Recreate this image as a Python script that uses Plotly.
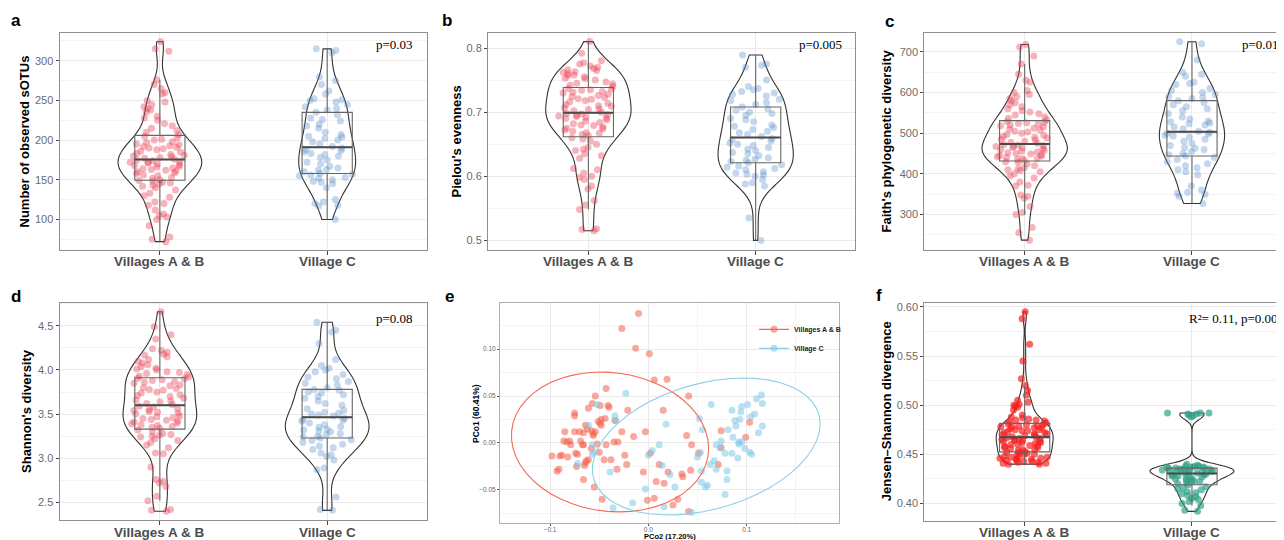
import numpy as np
import plotly.graph_objects as go

W, H = 1284, 540          # target window
OFF = 8                   # default body margin of the html page
FW, FH = W - OFF, H - OFF # figure size
groups = ["Villages A & B", "Village C"]

# ---------------- data ----------------
sotus_ab = [72, 75, 78, 92, 100, 103, 105, 107, 112, 118, 120, 122, 128, 130, 133, 137, 140, 142, 143, 145, 146, 147, 148, 149,
            150, 152, 153, 155, 156, 158, 159, 160, 161, 162, 163, 164, 165, 166, 167, 168, 169, 170, 171, 172, 172, 173, 174, 175,
            176, 177, 178, 179, 180, 181, 182, 183, 185, 186, 188, 189, 190, 191, 192, 193, 194, 195, 197, 198, 200, 201, 203, 205,
            207, 210, 212, 215, 218, 221, 225, 228, 230, 235, 238, 240, 242, 245, 248, 250, 258, 260, 265, 270, 276, 312, 315, 324]
sotus_c = [100, 117, 118, 120, 122, 125, 140, 145, 147, 148, 150, 152, 153, 155, 156, 157,
           158, 160, 162, 163, 165, 167, 170, 172, 175, 178, 180, 182, 183, 185, 187, 188, 190,
           192, 195, 198, 200, 202, 204, 205, 207, 210, 215, 218, 220, 224, 226, 228, 232, 235,
           238, 240, 242, 245, 248, 250, 251, 252, 258, 262, 270, 275, 280, 310, 313, 315]

pielou_ab = [0.515, 0.517, 0.518, 0.548, 0.555, 0.562, 0.58, 0.585, 0.595, 0.598, 0.6, 0.605, 0.61, 0.612, 0.628, 0.632, 0.635, 0.64, 0.642, 0.645, 0.65, 0.655, 0.658, 0.66,
             0.663, 0.665, 0.667, 0.668, 0.67, 0.672, 0.674, 0.675, 0.677, 0.679, 0.68, 0.682, 0.684, 0.686, 0.688, 0.69, 0.691, 0.692, 0.693, 0.694, 0.695, 0.696, 0.697, 0.698,
             0.7, 0.702, 0.704, 0.705, 0.707, 0.709, 0.71, 0.712, 0.714, 0.716, 0.718, 0.72, 0.721, 0.723, 0.724, 0.726, 0.728, 0.73, 0.731, 0.732, 0.734, 0.735, 0.736, 0.737,
             0.74, 0.742, 0.744, 0.745, 0.747, 0.75, 0.752, 0.753, 0.755, 0.757, 0.758, 0.76, 0.762, 0.763, 0.765, 0.766, 0.768, 0.77, 0.772, 0.775, 0.777, 0.78, 0.792, 0.81]
pielou_c = [0.5, 0.535, 0.585, 0.588, 0.59, 0.595, 0.6, 0.602, 0.603, 0.605, 0.607, 0.61, 0.612, 0.614, 0.616, 0.618,
            0.621, 0.623, 0.625, 0.627, 0.629, 0.632, 0.635, 0.637, 0.64, 0.642, 0.645, 0.648, 0.65, 0.652, 0.655, 0.657, 0.659,
            0.662, 0.665, 0.668, 0.67, 0.673, 0.676, 0.678, 0.68, 0.685, 0.688, 0.69, 0.695, 0.698, 0.7, 0.703, 0.705, 0.708,
            0.712, 0.715, 0.718, 0.72, 0.725, 0.728, 0.73, 0.732, 0.735, 0.737, 0.74, 0.75, 0.77, 0.773, 0.775, 0.789]

faith_ab = [237, 255, 268, 300, 305, 320, 340, 345, 348, 370, 372, 380, 390, 395, 400, 405, 408, 410, 412, 415, 420, 425, 428, 430,
            433, 435, 437, 438, 440, 442, 444, 445, 447, 449, 450, 452, 454, 456, 458, 460, 462, 464, 465, 467, 468, 470, 471, 472,
            475, 478, 480, 483, 485, 488, 490, 492, 495, 497, 500, 503, 505, 508, 510, 512, 515, 518, 520, 522, 524, 525, 527, 529,
            533, 537, 540, 545, 548, 552, 555, 560, 565, 570, 575, 580, 585, 590, 595, 600, 605, 625, 630, 645, 670, 690, 712, 718]
faith_c = [327, 345, 350, 352, 355, 360, 370, 398, 405, 410, 415, 420, 425, 430, 435, 440,
           444, 447, 450, 455, 460, 463, 465, 470, 475, 480, 485, 490, 493, 495, 498, 500, 502,
           505, 510, 515, 520, 523, 525, 528, 530, 535, 540, 548, 555, 560, 565, 570, 575, 580,
           585, 588, 590, 595, 600, 605, 610, 620, 622, 625, 640, 645, 650, 680, 720, 725]

shannon_ab = [2.4, 2.41, 2.42, 2.52, 2.57, 2.68, 2.72, 2.74, 2.76, 2.9, 3.05, 3.06, 3.12, 3.15, 3.18, 3.2, 3.22, 3.24, 3.25, 3.26, 3.27, 3.28, 3.3, 3.32,
              3.34, 3.35, 3.36, 3.37, 3.38, 3.39, 3.4, 3.41, 3.42, 3.43, 3.44, 3.45, 3.46, 3.47, 3.48, 3.5, 3.51, 3.52, 3.53, 3.54, 3.55, 3.56, 3.58, 3.59,
              3.61, 3.62, 3.64, 3.65, 3.66, 3.68, 3.7, 3.71, 3.72, 3.74, 3.75, 3.77, 3.78, 3.79, 3.8, 3.82, 3.83, 3.85, 3.86, 3.87, 3.88, 3.89, 3.9, 3.905,
              3.92, 3.93, 3.95, 3.96, 3.97, 3.98, 4.0, 4.01, 4.02, 4.04, 4.06, 4.08, 4.1, 4.12, 4.15, 4.17, 4.18, 4.2, 4.22, 4.24, 4.35, 4.4, 4.49, 4.66]
shannon_c = [2.41, 2.42, 2.56, 2.87, 2.89, 2.98, 3.02, 3.04, 3.06, 3.1, 3.12, 3.14, 3.16, 3.18, 3.2, 3.21,
             3.23, 3.24, 3.25, 3.27, 3.28, 3.3, 3.31, 3.32, 3.33, 3.35, 3.36, 3.38, 3.4, 3.42, 3.43, 3.44, 3.45,
             3.48, 3.49, 3.5, 3.51, 3.52, 3.54, 3.56, 3.6, 3.62, 3.65, 3.68, 3.7, 3.72, 3.74, 3.75, 3.77, 3.78,
             3.8, 3.83, 3.85, 3.87, 3.9, 3.92, 3.95, 3.98, 4.0, 4.02, 4.05, 4.12, 4.3, 4.43, 4.45, 4.54]

jsd_ab = [0.44, 0.44, 0.441, 0.441, 0.442, 0.442, 0.443, 0.443, 0.444, 0.444, 0.445, 0.445, 0.446, 0.446, 0.447, 0.447, 0.448, 0.448, 0.449, 0.45, 0.45, 0.451, 0.452, 0.452,
          0.453, 0.454, 0.455, 0.455, 0.456, 0.457, 0.457, 0.458, 0.459, 0.459, 0.46, 0.46, 0.461, 0.462, 0.462, 0.463, 0.463, 0.464, 0.464, 0.465, 0.465, 0.466, 0.466, 0.467,
          0.468, 0.468, 0.469, 0.47, 0.47, 0.471, 0.471, 0.472, 0.472, 0.473, 0.474, 0.474, 0.475, 0.475, 0.476, 0.477, 0.477, 0.478, 0.478, 0.479, 0.479, 0.48, 0.48, 0.481,
          0.482, 0.483, 0.484, 0.485, 0.485, 0.486, 0.487, 0.488, 0.49, 0.495, 0.498, 0.499, 0.5, 0.501, 0.503, 0.505, 0.51, 0.515, 0.52, 0.527, 0.545, 0.562, 0.588, 0.595]
jsd_c = [0.392, 0.393, 0.398, 0.4, 0.402, 0.404, 0.405, 0.407, 0.408, 0.41, 0.411, 0.412, 0.414, 0.415, 0.416, 0.417,
         0.419, 0.42, 0.421, 0.422, 0.422, 0.423, 0.424, 0.425, 0.425, 0.426, 0.427, 0.427, 0.428, 0.428, 0.429, 0.429, 0.43,
         0.431, 0.431, 0.432, 0.432, 0.432, 0.433, 0.433, 0.433, 0.434, 0.434, 0.434, 0.435, 0.435, 0.435, 0.436, 0.436, 0.436,
         0.437, 0.437, 0.437, 0.438, 0.438, 0.438, 0.439, 0.44, 0.488, 0.489, 0.49, 0.491, 0.491, 0.492, 0.492, 0.492]

pco2_ab = [-0.010, -0.027, -0.013, 0.001, 0.006, 0.019, -0.043, -0.054, -0.057, -0.061,
           -0.049, -0.041, -0.040, -0.021, 0.015, 0.041, -0.075, -0.075, -0.048, -0.051,
           -0.049, -0.048, -0.044, -0.034, -0.064, -0.062, -0.066, -0.085, -0.075, -0.086,
           -0.083, -0.080, -0.079, -0.098, -0.090, -0.088, -0.093, -0.091, -0.074, -0.072,
           -0.082, -0.073, -0.065, -0.069, -0.067, -0.066, -0.056, -0.056, -0.054, -0.058,
           -0.063, -0.061, -0.064, -0.066, -0.055, -0.047, -0.050, -0.045, -0.043, -0.031,
           -0.027, -0.032, -0.024, -0.022, -0.015, -0.003, 0.002, -0.005, -0.001, 0.006,
           0.008, 0.011, 0.016, 0.020, 0.025, 0.030, 0.034, 0.035, 0.039, 0.044,
           0.043, 0.041, 0.051, 0.074, 0.074, 0.071, 0.099, 0.103, -0.070, -0.058,
           -0.052, -0.035, -0.038]
pco1_ab = [0.138, 0.122, 0.101, 0.095, 0.067, 0.068, 0.058, 0.050, 0.042, 0.037,
           0.040, 0.040, 0.038, 0.035, 0.035, 0.050, 0.032, 0.029, 0.025, 0.023,
           0.021, 0.019, 0.026, 0.024, 0.019, 0.015, 0.011, 0.012, 0.012, 0.002,
           0.001, 0.002, -0.002, -0.014, -0.014, -0.013, -0.030, -0.028, -0.011, -0.012,
           -0.015, -0.025, -0.024, 0.002, -0.002, -0.002, 0.010, 0.008, 0.012, 0.013,
           -0.019, -0.018, -0.021, -0.039, -0.047, -0.060, -0.010, -0.018, -0.002, 0.001,
           0.012, -0.028, -0.013, -0.023, 0.007, 0.012, -0.011, -0.031, -0.061, -0.059,
           -0.041, -0.023, -0.043, -0.031, -0.066, -0.060, -0.033, -0.036, 0.008, -0.002,
           -0.029, -0.073, -0.011, 0.013, -0.005, -0.023, 0.006, 0.022, 0.012, -0.006,
           -0.001, 0.001, -0.018]
pco2_c = [-0.023, -0.052, -0.034, -0.033, -0.061, 0.018, 0.011, 0.004, 0.000, -0.055,
          -0.057, -0.057, -0.072, -0.039, 0.014, 0.022, 0.027, -0.003, -0.016, -0.036,
          0.016, 0.044, 0.052, 0.055, 0.064, 0.053, 0.050, 0.054, 0.054, 0.058,
          0.060, 0.063, 0.067, 0.069, 0.074, 0.073, 0.078, 0.078, 0.080, 0.080,
          0.081, 0.085, 0.088, 0.085, 0.086, 0.089, 0.092, 0.092, 0.091, 0.093,
          0.094, 0.095, 0.098, 0.101, 0.103, 0.104, 0.105, 0.108, 0.110, 0.112,
          0.115, 0.116, 0.116, 0.095, 0.069]
pco1_c = [0.053, 0.041, 0.029, 0.024, 0.019, 0.020, -0.002, -0.008, -0.013, -0.010,
          -0.012, -0.002, -0.022, -0.031, -0.024, -0.034, -0.047, -0.049, -0.064, -0.069,
          -0.068, -0.074, 0.026, 0.014, 0.041, -0.010, -0.015, -0.030, -0.042, -0.047,
          -0.045, -0.023, -0.019, -0.028, 0.002, -0.005, -0.011, -0.055, -0.039, -0.030,
          0.014, 0.035, 0.024, -0.011, 0.006, 0.018, 0.001, -0.001, -0.016, 0.025,
          0.033, 0.039, -0.006, 0.041, -0.010, 0.028, -0.012, 0.031, 0.047, 0.011,
          0.051, 0.042, 0.018, 0.001, -0.002]

p_texts = ["p=0.03", "p=0.005", "p=0.019", "p=0.08", "R\u00b2= 0.11, p=0.001"]
y_titles = ["Number of observed sOTUs", "Pielou's evenness", "Faith's phylogenetic diversity",
            "Shannon's diversity", "PCo1 (60.41%)", "Jensen\u2013Shannon divergence"]
x_title_e = "PCo2 (17.20%)"
panel_letters = ["a", "b", "c", "d", "e", "f"]

# ---------------- helpers ----------------
def fx(px):
    return (px - OFF) / FW

def fy(py):
    return 1 - (py - OFF) / FH

def nrd0(v):
    v = np.asarray(v, float)
    sd = v.std(ddof=1)
    q75, q25 = np.percentile(v, [75, 25])
    lo = min(sd, (q75 - q25) / 1.34)
    return 0.9 * lo * len(v) ** -0.2

def cov_trob(X, nu=5, maxit=25, tol=0.01):
    n, p = X.shape
    loc = X.mean(0)
    w = np.ones(n)
    for _ in range(maxit):
        w0 = w
        Xc = X - loc
        S = (Xc * (w / w.sum())[:, None]).T @ Xc
        Q = np.einsum('ij,jk,ik->i', Xc, np.linalg.inv(S), Xc)
        w = (nu + p) / (nu + Q)
        loc = (w[:, None] * X).sum(0) / w.sum()
        if np.all(np.abs(w - w0) < tol):
            break
    Xc = X - loc
    cov = (Xc * w[:, None]).T @ Xc / n
    return loc, cov

def stat_ellipse(x, y, level=0.95, segments=51):
    X = np.column_stack([x, y])
    n = len(x)
    center, shape = cov_trob(X)
    dfd = n - 1
    fq = (dfd / 2.0) * ((1 - level) ** (-2.0 / dfd) - 1)  # qf(level, 2, dfd)
    radius = np.sqrt(2 * fq)
    R = np.linalg.cholesky(shape).T
    ang = np.linspace(0, 2 * np.pi, segments + 1)
    uc = np.column_stack([np.cos(ang), np.sin(ang)])
    e = center + radius * (uc @ R)
    return e[:, 0], e[:, 1]

# ---------------- geometry (window pixels) ----------------
geo = {
    1: (59.5, 426.7, 30.7, 249.3),
    2: (488.0, 855.4, 30.7, 249.3),
    3: (924.3, 1284.0, 30.7, 249.3),
    4: (59.5, 426.7, 301.7, 520.0),
    5: (500.0, 839.3, 302.3, 523.3),
    6: (924.3, 1284.0, 301.7, 520.7),
}

BORDER = "#8f8f8f"
GRID = "#EAEAEA"
MINOR = "#F4F4F4"
AB_PT = "rgba(234,66,86,0.40)"
C_PT = "rgba(82,138,198,0.34)"
SANS = "Liberation Sans, Arial, sans-serif"
BOX_W = 0.3

fig = go.Figure()

violin_panels = [
    (1, sotus_ab, sotus_c, [61.0, 335.5], 50, 25, "d", (0.50, 0.34), (AB_PT, C_PT), 260),
    (2, pielou_ab, pielou_c, [0.4844, 0.824], 0.1, 0.05, ".1f", (0.51, 0.45), (AB_PT, C_PT), 260),
    (3, faith_ab, faith_c, [211.8, 747.3], 100, 50, "d", (0.51, 0.39), (AB_PT, C_PT), 260),
    (4, shannon_ab, shannon_c, [2.30, 4.763], 0.5, 0.25, ".1f", (0.44, 0.50), (AB_PT, C_PT), 532.5),
    (6, jsd_ab, jsd_c, [0.3824, 0.6044], 0.05, 0.025, ".2f", (0.34, 0.50),
     ("rgba(246,30,30,0.68)", "rgba(44,160,132,0.68)"), 532.5),
]

layout_axes = {}
ann = []

for idx, ab, cc, yr, dt, mdt, fmt, widths, cols, label_y in violin_panels:
    xa = "x" if idx == 1 else f"x{idx}"
    ya = "y" if idx == 1 else f"y{idx}"
    for gi, vals in enumerate([ab, cc]):
        w = widths[gi]
        fig.add_trace(go.Violin(
            x=[gi] * len(vals), y=vals, xaxis=xa, yaxis=ya,
            width=w, scalemode="width", spanmode="hard", bandwidth=nrd0(vals),
            points="all", pointpos=0, jitter=min(1.0, 0.36 / w),
            marker=dict(color=cols[gi], size=7, line=dict(width=0)),
            line=dict(color="#333333", width=1.1),
            fillcolor="rgba(0,0,0,0)", showlegend=False, hoverinfo="y"))
    for gi, vals in enumerate([ab, cc]):
        fig.add_trace(go.Box(
            x=[gi] * len(vals), y=vals, xaxis=xa, yaxis=ya, width=BOX_W,
            boxpoints="outliers", marker=dict(opacity=0, size=1),
            line=dict(color="#666666", width=1.1), fillcolor="rgba(0,0,0,0)",
            whiskerwidth=0, showlegend=False, hoverinfo="y"))
        med = float(np.median(vals))
        fig.add_trace(go.Scatter(
            x=[gi - BOX_W / 2, gi + BOX_W / 2], y=[med, med], xaxis=xa, yaxis=ya,
            mode="lines", line=dict(color="#4a4a4a", width=2), showlegend=False, hoverinfo="skip"))
    x0, x1, y0, y1 = geo[idx]
    px_per = 167.3
    xr = [-0.6, -0.6 + (x1 - x0) / px_per]
    right_open = idx in (3, 6)
    key = "" if idx == 1 else str(idx)
    layout_axes["xaxis" + key] = dict(
        domain=[fx(x0), min(1.0, fx(x1))], anchor=ya, range=xr, tickmode="array",
        tickvals=[0, 1], showticklabels=False,
        showgrid=True, gridcolor=GRID, gridwidth=1, zeroline=False,
        showline=True, linecolor=BORDER, linewidth=1, mirror=True,
        ticks="outside", ticklen=4, tickcolor="#444", tickwidth=1)
    layout_axes["yaxis" + key] = dict(
        domain=[fy(y1), fy(y0)], anchor=xa, range=yr, tick0=0, dtick=dt,
        tickformat=fmt,
        tickfont=dict(family=SANS, size=11, color="#6b6b6b"),
        showgrid=True, gridcolor=GRID, gridwidth=1, zeroline=False,
        minor=dict(dtick=mdt, tick0=0, showgrid=True, gridcolor=MINOR, gridwidth=1),
        showline=True, linecolor=BORDER, linewidth=1, mirror=not right_open,
        ticks="outside", ticklen=3, tickcolor="#444", tickwidth=1)
    for gi, g in enumerate(groups):
        ann.append(dict(text=g, x=gi, xref=xa, y=fy(label_y), yref="paper", showarrow=False,
                        xanchor="center", yanchor="middle",
                        font=dict(family=SANS, size=13.5, color="#4D4D4D", weight="bold")))

# ---------------- panel e (PCoA) ----------------
RED = "#F26A55"
BLUE = "#8CCFE6"
fig.add_trace(go.Scatter(x=pco2_ab, y=pco1_ab, xaxis="x5", yaxis="y5", mode="markers",
                         marker=dict(color="rgba(242,96,76,0.55)", size=7), showlegend=False))
fig.add_trace(go.Scatter(x=pco2_c, y=pco1_c, xaxis="x5", yaxis="y5", mode="markers",
                         marker=dict(color="rgba(130,200,232,0.55)", size=7), showlegend=False))
ex, ey = stat_ellipse(pco2_ab, pco1_ab)
fig.add_trace(go.Scatter(x=ex, y=ey, xaxis="x5", yaxis="y5", mode="lines",
                         line=dict(color=RED, width=1.1), showlegend=False, hoverinfo="skip"))
ex, ey = stat_ellipse(pco2_c, pco1_c)
fig.add_trace(go.Scatter(x=ex, y=ey, xaxis="x5", yaxis="y5", mode="lines",
                         line=dict(color=BLUE, width=1.1), showlegend=False, hoverinfo="skip"))
for name, col, mc in [(groups[0], RED, "rgba(242,96,76,0.55)"), (groups[1], BLUE, "rgba(130,200,232,0.6)")]:
    fig.add_trace(go.Scatter(x=[None], y=[None], xaxis="x5", yaxis="y5", mode="lines+markers", name=name,
                             marker=dict(color=mc, size=7), line=dict(color=col, width=1.1)))

x0, x1, y0, y1 = geo[5]
layout_axes["xaxis5"] = dict(
    domain=[fx(x0), fx(x1)], anchor="y5", range=[-0.1509, 0.1942], tick0=0, dtick=0.1, tickformat=".1f",
    tickfont=dict(family=SANS, size=6.5, color="#666"),
    showgrid=True, gridcolor=GRID, zeroline=False,
    minor=dict(dtick=0.05, tick0=0, showgrid=True, gridcolor=MINOR),
    showline=True, linecolor="#b0b0b0", linewidth=1, mirror=True,
    ticks="outside", ticklen=2, tickcolor="#555", ticklabelstandoff=-2)
layout_axes["yaxis5"] = dict(
    domain=[fy(y1), fy(y0)], anchor="x5", range=[-0.0857, 0.149], tick0=0, dtick=0.05, tickformat=".2f",
    tickfont=dict(family=SANS, size=6.5, color="#666"),
    showgrid=True, gridcolor=GRID, zeroline=False,
    minor=dict(dtick=0.025, tick0=0, showgrid=True, gridcolor=MINOR),
    showline=True, linecolor="#b0b0b0", linewidth=1, mirror=True,
    ticks="outside", ticklen=2, tickcolor="#555")

# ---------------- annotations ----------------
letter_pos = [(16, 19), (447, 19), (889, 20), (16, 296), (449, 296), (879, 295)]
for L, (px, py) in zip(panel_letters, letter_pos):
    ann.append(dict(text=L, x=fx(px), y=fy(py), xref="paper", yref="paper", showarrow=False,
                    xanchor="center", yanchor="middle",
                    font=dict(family=SANS, size=17, color="black", weight="bold")))

title_pos = [(25, 140), (457, 140), (887, 140), (26.5, 411), (476.7, 412.8), (886.7, 411)]
for i, (t, (px, py)) in enumerate(zip(y_titles, title_pos)):
    ann.append(dict(text=t, x=fx(px), y=fy(py), xref="paper", yref="paper", showarrow=False,
                    textangle=-90, xanchor="center", yanchor="middle",
                    font=dict(family=SANS, size=8.5 if i == 4 else 13, color="black", weight="bold")))
ann.append(dict(text=x_title_e, x=fx(669.7), y=fy(536.5), xref="paper", yref="paper", showarrow=False,
                xanchor="center", yanchor="middle",
                font=dict(family=SANS, size=7.5, color="black", weight="bold")))

p_pos = [(415, 43, "right"), (844, 43, "right"), (1240, 43, "left"), (415, 318, "right"), (1187, 318, "left")]
for t, (px, py, anc) in zip(p_texts, p_pos):
    ann.append(dict(text=t, x=fx(px), y=fy(py), xref="paper", yref="paper", showarrow=False,
                    xanchor=anc, yanchor="middle",
                    font=dict(family="Liberation Serif, Times New Roman, serif", size=13, color="black")))

fig.update_layout(
    width=FW, height=FH, margin=dict(l=0, r=0, t=0, b=0),
    paper_bgcolor="white", plot_bgcolor="white",
    violinmode="overlay", boxmode="overlay",
    annotations=ann,
    legend=dict(x=fx(754), y=fy(314), xanchor="left", yanchor="top",
                bgcolor="rgba(0,0,0,0)", itemwidth=30, tracegroupgap=0,
                font=dict(family=SANS, size=7, color="#222", weight="bold")),
    **layout_axes,
)

fig.write_html("out.html")
